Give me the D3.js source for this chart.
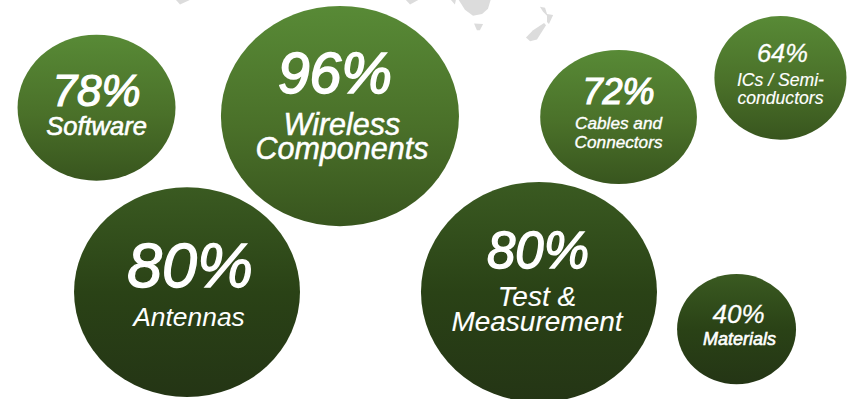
<!DOCTYPE html>
<html>
<head>
<meta charset="utf-8">
<script src="https://cdn.jsdelivr.net/npm/d3@7/dist/d3.min.js"></script>
<style>
html,body{margin:0;padding:0;background:#fff}
svg{display:block}
text{font-family:"Liberation Sans",Arial,sans-serif;font-style:italic;fill:#fff;stroke:#fff;text-anchor:middle}
</style>
</head>
<body>
<svg id="chart" width="852" height="399"></svg>
<script>
// Share of companies per product segment
const categories = ["Software","Wireless Components","Cables and Connectors","ICs / Semi-conductors","Antennas","Test & Measurement","Materials"];
const labelLines = [["Software"],["Wireless","Components"],["Cables and","Connectors"],["ICs / Semi-","conductors"],["Antennas"],["Test &","Measurement"],["Materials"]];
const values = [78,96,72,64,80,80,40];
const tiers = ["light","light","light","light","dark","dark","dark"];

// Bubble placement on a 0-100 board, and bubble extents in board units
const boardX = [11.33,39.9,72.6,91.6,21.95,63.26,86.45];
const boardY = [27.0,29.1,29.3,19.5,73.2,73.2,82.5];
const extentX = [9.27,13.97,9.2,7.75,13.26,13.85,6.98];
const extentY = [18.3,27.6,16.8,15.5,26.3,27.6,13.8];

// Type sizes in pixels for each bubble: percentage, label
const valueSizes = [44,57,36,25.5,63,51,26];
const labelSizes = [25.5,30.5,17.2,17.6,26.4,28,18];
// Outline weight that thickens the lettering
const valueWeights = [1.2,1.7,1.2,0.3,1.3,1.4,0.3];
const labelWeights = [0.6,0.5,0.35,0.15,0,0.1,0.6];
// Baselines and horizontal nudges relative to each bubble centre
const valueBaselines = [-2,-23,-13,-16,-5,-24,-6];
const labelBaselines = [[27],[19,43],[12,31],[8,26],[34],[14,39],[16]];
const valueNudges = [0,-5,0,2,3,-1,2];
const labelNudges = [0,2,0,0,2,-2,3];

// Southern landmasses behind the bubbles, as [lon, lat] outlines
const landmasses = [
  [[22.9,-31],[24.9,-33.3],[29.8,-31]],
  [[116.7,-31],[118.8,-33.3],[122.9,-31]],
  [[135.1,-31],[137.1,-33.3],[137.6,-31]],
  [[138.4,-31],[141.2,-35.4],[144.5,-37.9],[148.2,-37.1],[150.6,-35],[151.8,-31]],
  [[144.9,-41],[148.6,-41.25],[147.3,-43.75],[146.1,-43.75]],
  [[171.8,-34.2],[173.9,-34.6],[174.7,-37.1],[177.2,-37.5],[175.5,-41.25],[174.7,-40.4],[174.7,-37.9],[173.1,-36.25]],
  [[173.5,-40.8],[174.3,-41.7],[170.6,-47.5],[167.8,-48.3],[166.1,-46.7],[169,-43.75]]
];

const width = 852, height = 399;
const svg = d3.select("#chart");
const x = d3.scaleLinear().domain([0,100]).range([0,width]);
const y = d3.scaleLinear().domain([0,100]).range([0,height]);

const defs = svg.append("defs");
const ramps = {
  light:[["0%","#588a36"],["55%","#4a7029"],["100%","#38551e"]],
  dark:[["0%","#3a5a21"],["50%","#2a4216"],["100%","#243515"]]
};
Object.entries(ramps).forEach(([name,stops])=>{
  const g = defs.append("linearGradient").attr("id","grad-"+name)
    .attr("x1",0).attr("y1",0).attr("x2",0).attr("y2",1);
  stops.forEach(([o,c])=>g.append("stop").attr("offset",o).attr("stop-color",c));
});

// Faint map layer
const projection = d3.geoEquirectangular()
  .scale(2.45*180/Math.PI)
  .translate([119,-77]);
const coast = d3.line()
  .x(p=>projection(p)[0])
  .y(p=>projection(p)[1])
  .curve(d3.curveLinearClosed);
svg.append("g").selectAll("path").data(landmasses).join("path")
  .attr("d",coast)
  .attr("fill","#dcdcdc");

const bubbles = svg.selectAll("g.bubble").data(categories).join("g")
  .attr("class","bubble")
  .attr("transform",(d,i)=>`translate(${x(boardX[i])},${y(boardY[i])})`);

bubbles.append("ellipse")
  .attr("rx",(d,i)=>x(extentX[i]))
  .attr("ry",(d,i)=>y(extentY[i]))
  .attr("fill",(d,i)=>`url(#grad-${tiers[i]})`);

bubbles.append("text").attr("class","value")
  .attr("x",(d,i)=>valueNudges[i])
  .attr("y",(d,i)=>valueBaselines[i])
  .attr("font-size",(d,i)=>valueSizes[i])
  .attr("stroke-width",(d,i)=>valueWeights[i])
  .text((d,i)=>values[i]+"%");

bubbles.each(function(d,i){
  d3.select(this).selectAll("text.label").data(labelLines[i]).join("text")
    .attr("class","label")
    .attr("x",labelNudges[i])
    .attr("y",(l,j)=>labelBaselines[i][j])
    .attr("font-size",labelSizes[i])
    .attr("stroke-width",labelWeights[i])
    .text(l=>l);
});
</script>
</body>
</html>
